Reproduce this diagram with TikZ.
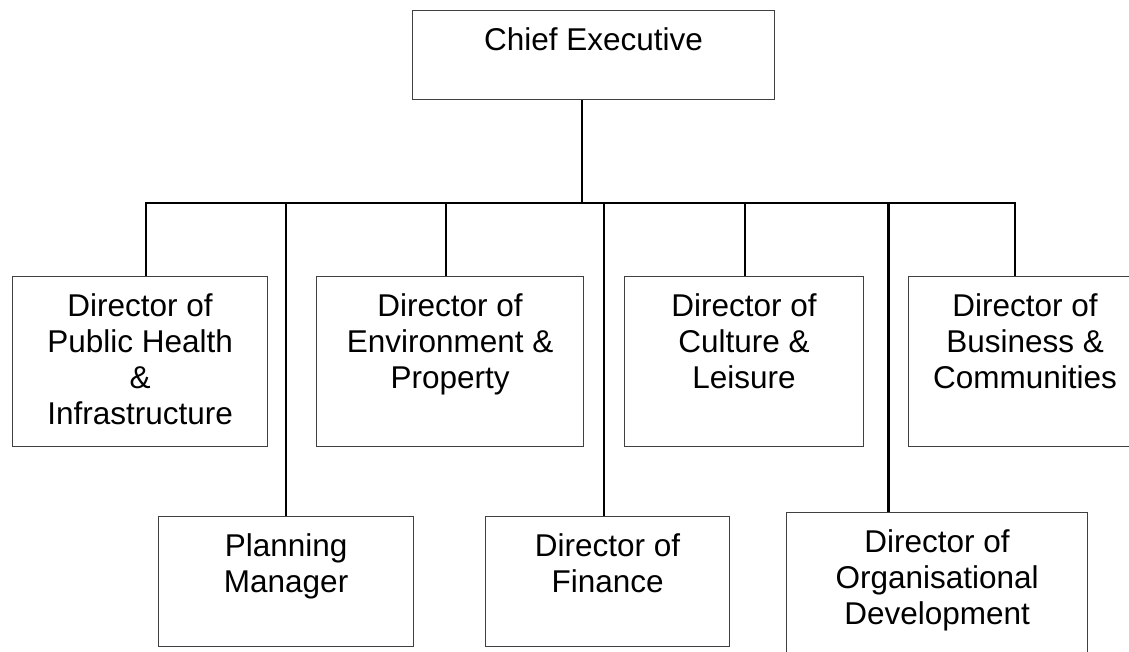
\documentclass[tikz,border=0pt]{standalone}
\usepackage{fontspec}
\setmainfont{Liberation Sans}
\usetikzlibrary{positioning}

\begin{document}
\begin{tikzpicture}[x=1pt,y=-1pt]
      \tikzstyle{postbox}=[rectangle, draw=black!75, line width=1.2pt, inner sep=0pt, anchor=north west]
      \tikzstyle{posttext}=[align=center, inner sep=0pt, font=\fontsize{31.5}{36}\selectfont]
      \tikzstyle{link}=[line width=2pt]
      \useasboundingbox (0,0) rectangle (1129,652);
      % top post
      \node[postbox, minimum width=362pt, minimum height=89pt] (CE) at (412,10) {};
      \node[posttext, below=17pt of CE.north] (CEtext) {Chief Executive};
      % first row of directors
      \node[postbox, minimum width=255pt, minimum height=170pt] (PH) at (12,276) {};
      \node[postbox, minimum width=267pt, minimum height=170pt, right=47.8pt of PH] (EP) {};
      \node[postbox, minimum width=239pt, minimum height=170pt, right=39.8pt of EP] (CL) {};
      \node[postbox, minimum width=233pt, minimum height=170pt, right=43.8pt of CL] (BC) {};
      % second row
      \node[postbox, minimum width=255pt, minimum height=130pt] (PM) at (158,516) {};
      \node[postbox, minimum width=244pt, minimum height=130pt, right=70.8pt of PM] (DF) {};
      \node[postbox, minimum width=301pt, minimum height=150pt] (OD) at (786,512) {};
      % box texts
      \node[posttext, below=17pt of PH.north] (PHtext) {Director of\\Public Health\\\&\\Infrastructure};
      \node[posttext, below=17pt of EP.north] (EPtext) {Director of\\Environment \&\\Property};
      \node[posttext, below=17pt of CL.north] (CLtext) {Director of\\Culture \&\\Leisure};
      \node[posttext, below=17pt of BC.north] (BCtext) {Director of\\Business \&\\Communities};
      \node[posttext, below=17pt of PM.north] (PMtext) {Planning\\Manager};
      \node[posttext, below=17pt of DF.north] (DFtext) {Director of\\Finance};
      \node[posttext, below=17pt of OD.north] (ODtext) {Director of\\Organisational\\Development};
      % connectors
      \coordinate (hub) at (582,203);
      \draw[link] (CE.south -| hub) -- (hub);
      \foreach \x/\b in {146/PH, 286/PM, 446/EP, 604/DF, 745/CL, 888/OD, 1015/BC}
        \coordinate (t\b) at (\x,203);
      \draw[link] (tPH |- PH.north) -- (tPH) -- (tBC) -- (tBC |- BC.north);
      \foreach \b/\w in {PM/2pt, EP/2pt, DF/2pt, CL/2pt, OD/3pt}
        \draw[link, line width=\w] (t\b) -- (t\b |- \b.north);
\end{tikzpicture}
\end{document}
